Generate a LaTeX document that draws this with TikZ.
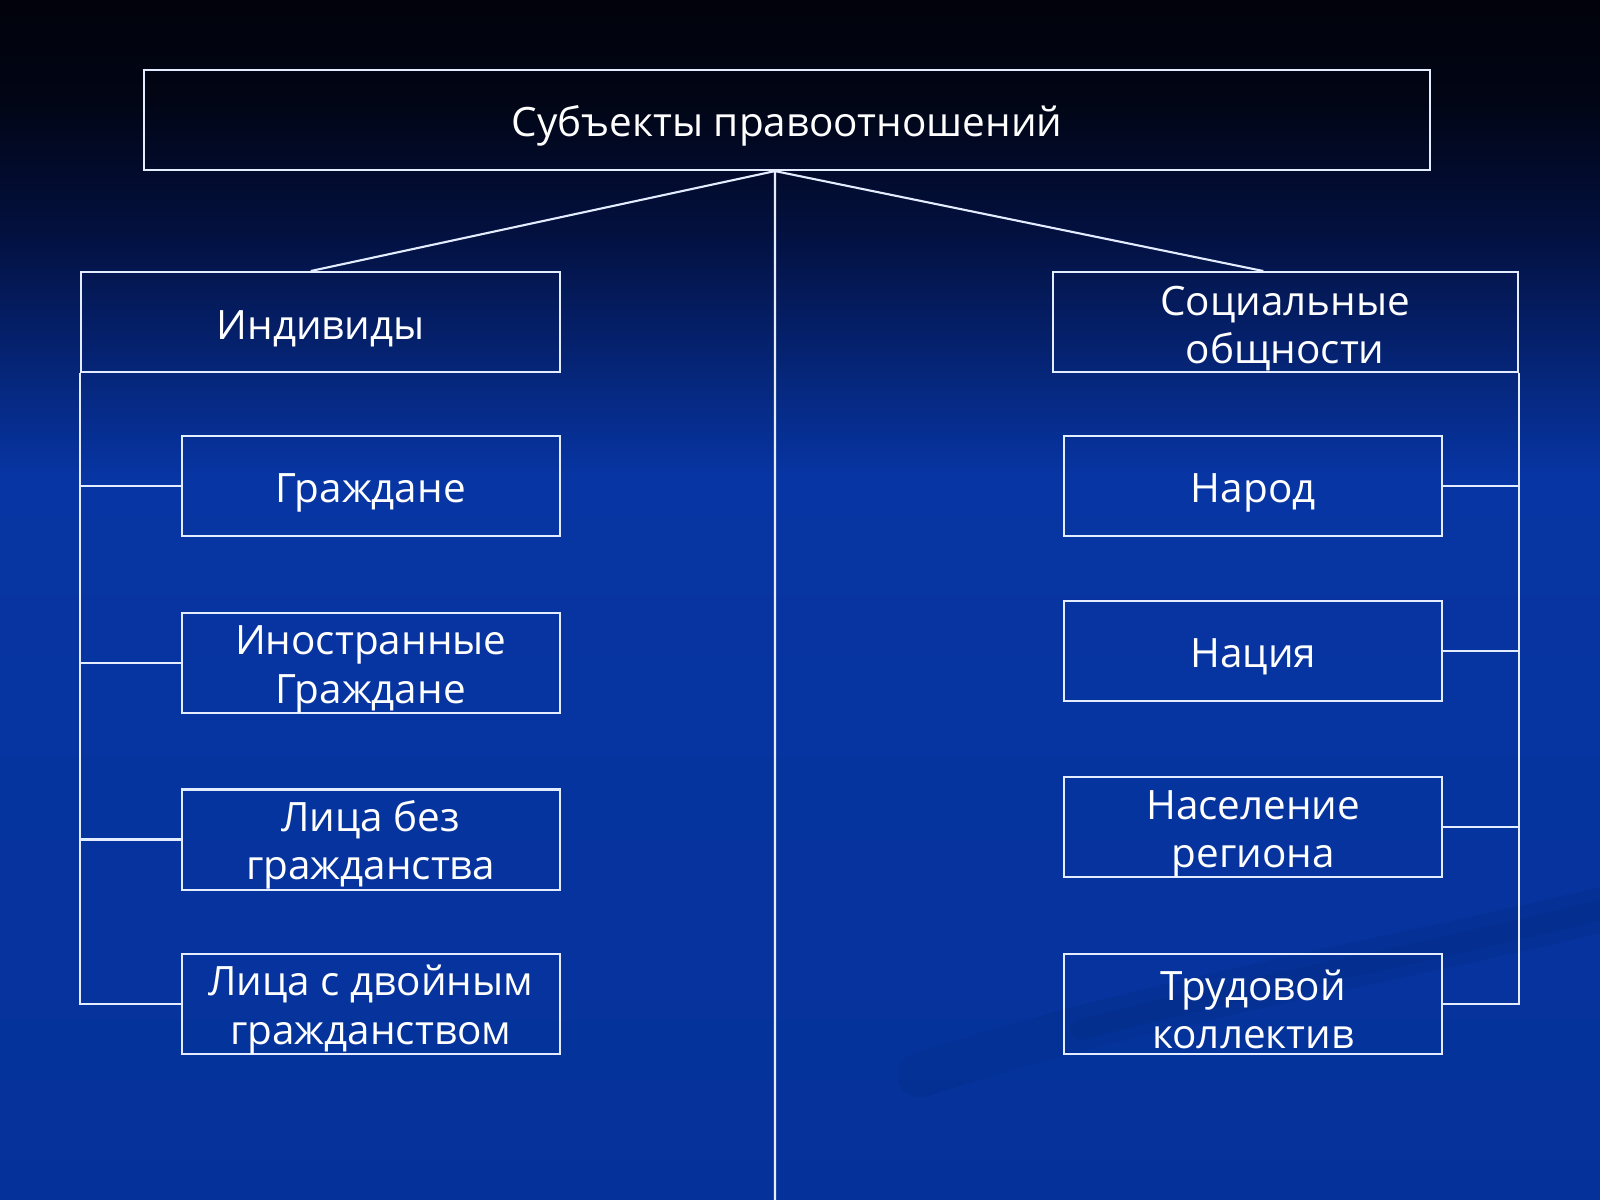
\documentclass[tikz,border=0pt]{standalone}
\usepackage{fontspec}
\setmainfont{Open Sans}
\usetikzlibrary{positioning}
\tikzset{>=latex}
\definecolor{bgtop}{HTML}{01020B}
\definecolor{bgdark}{HTML}{010515}
\definecolor{bgmid}{HTML}{03103F}
\definecolor{bgblue}{HTML}{0735A3}
\definecolor{bgbot}{HTML}{05329A}
\definecolor{frame}{HTML}{E4ECFF}
\newcommand\lift{\rule{0pt}{0.42cm}}

\begin{document}
\begin{tikzpicture}[x=0.01cm, y=-0.01cm,
		box/.style={draw=frame, line width=0.6pt, text=white, inner sep=0pt, align=center,
			minimum height=1cm, font=\fontsize{11.5}{13.7}\selectfont},
		leaf/.style={box, minimum width=3.775cm},
		link/.style={draw=frame, line width=0.6pt},
		node distance=1cm, on grid]
	% background
	\useasboundingbox (0,0) rectangle (1600,1200);
	\shade[top color=bgtop, bottom color=bgdark] (0,0) rectangle (1600,101);
	\shade[top color=bgdark, bottom color=bgmid] (0,100) rectangle (1600,231);
	\shade[top color=bgmid, bottom color=bgblue] (0,230) rectangle (1600,475);
	\shade[top color=bgblue, bottom color=bgbot] (0,474) rectangle (1600,1200);
	\draw[line width=0.45cm, black, opacity=0.04, line cap=round]
		(1620,905) .. controls (1400,960) and (1150,1000) .. (920,1075);
	\draw[line width=0.2cm, black, opacity=0.04, line cap=round]
		(1620,905) .. controls (1400,960) and (1250,985) .. (1080,1030);

	\node[box, minimum width=12.85cm] (root) at (787,120) {\lift Субъекты правоотношений};
	\node[box, minimum width=4.786cm] (ind) [below left=2.02cm and 4.66cm of root] {\lift Индивиды};
	\node[box, minimum width=4.65cm] (soc) [below right=2.02cm and 4.98cm of root] {\lift Социальные\\общности};

	\node[leaf] (ind1) [below right=1.64cm and 0.5cm of ind] {\lift Граждане};
	\node[leaf] (ind2) [below=1.765cm of ind1] {\lift Иностранные\\Граждане};
	\node[leaf] (ind3) [below=1.766cm of ind2] {\lift Лица без\\гражданства};
	\node[leaf] (ind4) [below=1.642cm of ind3] {\lift Лица с двойным\\гражданством};

	\node[leaf] (soc1) [below left=1.64cm and 0.32cm of soc] {\lift Народ};
	\node[leaf] (soc2) [below=1.643cm of soc1] {\lift Нация};
	\node[leaf] (soc3) [below=1.765cm of soc2] {\lift Население\\региона};
	\node[leaf] (soc4) [below=1.765cm of soc3] {\lift Трудовой\\коллектив};

	\coordinate (apex) at ([xshift=-0.12cm]root.south);
	\coordinate (floor) at (775,1200);
	\path[link]
		(apex) -- ([xshift=-0.1cm]ind.north)
		(apex) -- ([xshift=-0.22cm]soc.north)
		(apex) -- (floor);
	\path[link]
		(ind.south west) |- (ind4.west)
		(ind1.west) -- (ind1.west -| ind.west)
		(ind2.west) -- (ind2.west -| ind.west)
		(ind3.west) -- (ind3.west -| ind.west);
	\path[link]
		(soc.south east) |- (soc4.east)
		(soc1.east) -- (soc1.east -| soc.east)
		(soc2.east) -- (soc2.east -| soc.east)
		(soc3.east) -- (soc3.east -| soc.east);
\end{tikzpicture}
\end{document}
